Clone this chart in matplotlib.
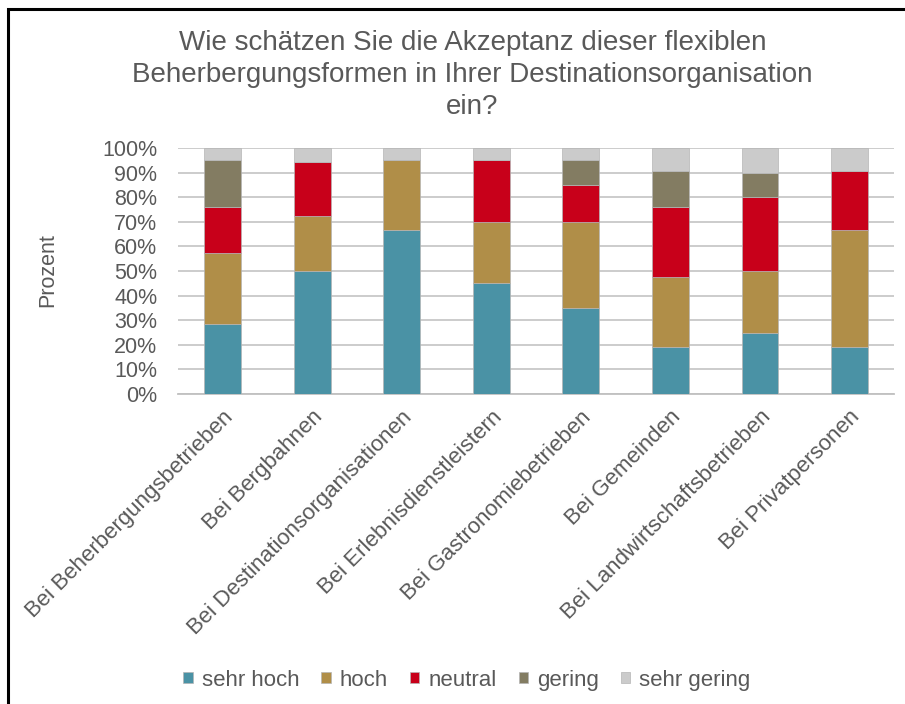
import numpy as np
import matplotlib.pyplot as plt
from matplotlib.patches import Rectangle

plt.rcParams['font.family'] = ['Liberation Sans', 'DejaVu Sans']

kategorien = ['Bei Beherbergungsbetrieben', 'Bei Bergbahnen', 'Bei Destinationsorganisationen',
              'Bei Erlebnisdienstleistern', 'Bei Gastronomiebetrieben', 'Bei Gemeinden',
              'Bei Landwirtschaftsbetrieben', 'Bei Privatpersonen']
stufen = ['sehr hoch', 'hoch', 'neutral', 'gering', 'sehr gering']

# Anteile in Prozent je Kategorie
sehr_hoch = [28.57, 50.0, 66.67, 45.0, 35.0, 19.05, 25.0, 19.05]
hoch = [28.57, 22.22, 28.57, 25.0, 35.0, 28.57, 25.0, 47.62]
neutral = [19.05, 22.22, 0.0, 25.0, 15.0, 28.57, 30.0, 23.81]
gering = [19.05, 0.0, 0.0, 0.0, 10.0, 14.29, 10.0, 0.0]
sehr_gering = [4.76, 5.56, 4.76, 5.0, 5.0, 9.52, 10.0, 9.52]

farben = ['#4A92A5', '#B08E48', '#C8001A', '#837C62', '#CBCBCB']
grau = '#595959'

fig = plt.figure(figsize=(9.05, 7.04), dpi=100)
ax = fig.add_axes([0.1967, 0.4403, 0.7913, 0.3495])

x = np.arange(len(kategorien))
unten = np.zeros(len(kategorien))
for werte, name, farbe in zip([sehr_hoch, hoch, neutral, gering, sehr_gering], stufen, farben):
    ax.bar(x, werte, bottom=unten, width=0.41, color=farbe, label=name,
           edgecolor='#B5B5B5', linewidth=0.5, zorder=3)
    unten += np.array(werte)

ax.set_xlim(-0.5, len(kategorien) - 0.5)
ax.set_ylim(0, 100)
ax.set_yticks(np.arange(0, 101, 10))
ax.set_yticklabels([f'{v}%' for v in range(0, 101, 10)], fontsize=15.5, color=grau)
ax.tick_params(axis='y', length=0, pad=15)
ax.tick_params(axis='x', length=0, pad=9)
ax.set_xticks(x)
ax.set_xticklabels(kategorien, rotation=45, ha='right', rotation_mode='anchor',
                   fontsize=16, color=grau)
ax.yaxis.grid(True, color='#C8C8C8', linewidth=1.3, zorder=0)
ax.set_axisbelow(True)
for s in ['top', 'right', 'left']:
    ax.spines[s].set_visible(False)
ax.spines['bottom'].set_color('#C0C0C0')
ax.spines['bottom'].set_linewidth(1.3)

fig.text(0.053, 0.616, 'Prozent', rotation=90, ha='center', va='center',
         fontsize=15.5, color=grau)

fig.text(0.522, 0.893, 'Wie schätzen Sie die Akzeptanz dieser flexiblen\n'
         'Beherbergungsformen in Ihrer Destinationsorganisation\nein?',
         ha='center', va='center', fontsize=20, color=grau, linespacing=1.3)

fig.legend(loc='center', bbox_to_anchor=(0.516, 0.034), ncol=5, frameon=False,
           fontsize=16, labelcolor=grau, handlelength=0.42, handleheight=0.42,
           handletextpad=0.4, columnspacing=1.0)

# Rahmen um die Grafik
fig.patches.append(Rectangle((0.009, -0.05), 1.2, 1.037, transform=fig.transFigure,
                             fill=False, edgecolor='black', linewidth=2.2))

fig.savefig('out.png', dpi=100)
